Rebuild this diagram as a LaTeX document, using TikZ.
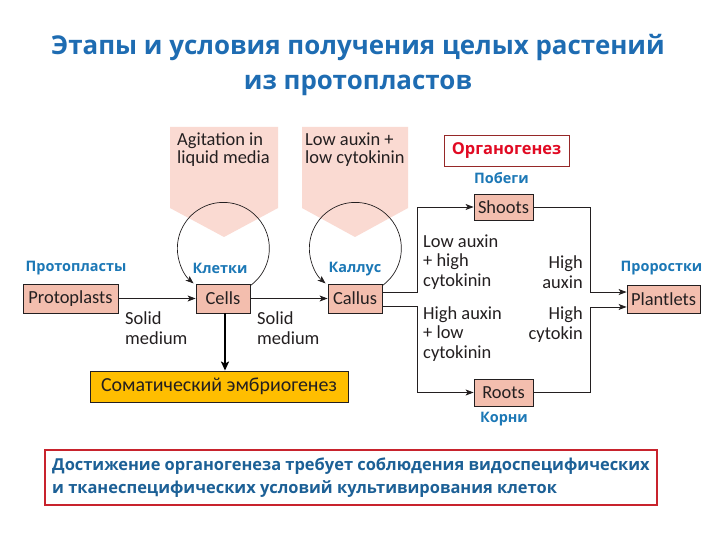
\documentclass[tikz,border=0pt]{standalone}
\usepackage{fontspec}
\setmainfont{Carlito}
\newfontfamily\osans{Open Sans}
\usetikzlibrary{arrows.meta}
\definecolor{titleblue}{RGB}{30,108,178}
\definecolor{lblblue}{RGB}{28,120,182}
\definecolor{botblue}{RGB}{28,96,150}
\definecolor{boxpink}{RGB}{243,190,174}
\definecolor{panelpink}{RGB}{250,218,210}
\definecolor{orgred}{RGB}{225,10,35}
\definecolor{orgborder}{RGB}{150,40,40}
\definecolor{botred}{RGB}{200,35,45}
\definecolor{somyellow}{RGB}{255,190,0}
\definecolor{ink}{RGB}{35,31,32}
\tikzset{
  stagebox/.style={draw=ink, fill=boxpink, line width=0.8bp, inner sep=0pt, text=ink,
    font=\fontsize{18.5}{20}\selectfont, minimum height=29bp},
  dtext/.style={inner sep=0pt, text=ink, font=\fontsize{18.5}{19.5}\selectfont},
  rlabel/.style={inner sep=0pt, text=lblblue, font=\osans\bfseries\fontsize{14.5}{16}\selectfont},
  arr/.style={draw=ink, line width=0.9bp, -{Stealth[length=8bp,width=6bp,inset=2bp]}},
  loopline/.style={draw=ink, line width=0.7bp, -{Stealth[length=8bp,width=6bp,inset=2bp]}},
  panel/.style={fill=panelpink, draw=none}
}
\begin{document}
\begin{tikzpicture}[x=1bp, y=-1bp]
\useasboundingbox (0,0) rectangle (720,540);
\fill[white] (0,0) rectangle (720,540);
% title
\node[inner sep=0pt, text=titleblue, align=center, font=\osans\bfseries\fontsize{26}{36}\selectfont] (title) at (358,65)
  {Этапы и условия получения целых растений\\из протопластов};
% pink panels
\fill[panel] (170,127) -- (278,127) -- (278,208) -- (224,237) -- (170,208) -- cycle;
\fill[panel] (302,127) -- (408,127) -- (408,208) -- (355,237) -- (302,208) -- cycle;
\node[dtext, anchor=west, align=left, font=\fontsize{18.5}{18}\selectfont] (agit) at (177,150) {Agitation in\\liquid media};
\node[dtext, anchor=west, align=left, font=\fontsize{18.5}{18}\selectfont] (lowlow) at (305,150) {Low auxin +\\low cytokinin};
% stage boxes
\node[stagebox, minimum width=95bp] (proto) at (70.5,298.5) {Protoplasts};
\node[stagebox, minimum width=54bp] (cells) at (223,298.5) {Cells};
\node[stagebox, minimum width=54bp] (callus) at (355,298.5) {Callus};
\node[stagebox, minimum width=59bp, minimum height=26bp] (shoots) at (503.5,207) {Shoots};
\node[stagebox, minimum width=59bp, minimum height=27bp] (roots) at (503.5,392.5) {Roots};
\node[stagebox, minimum width=73bp, minimum height=28bp] (plant) at (663.5,299) {Plantlets};
% russian labels
\node[rlabel] (lproto) at (76,268) {Протопласты};
\node[rlabel] (lcells) at (220,268) {Клетки};
\node[rlabel] (lcallus) at (355,269) {Каллус};
\node[rlabel] (lshoots) at (501.5,178) {Побеги};
\node[rlabel] (lplant) at (661.5,268) {Проростки};
\node[rlabel] (lroots) at (504,419) {Корни};
% organogenesis
\node[draw=orgborder, line width=0.9bp, fill=white, minimum width=125bp, minimum height=31bp, inner sep=0pt,
  text=orgred, font=\osans\bfseries\fontsize{16.5}{18}\selectfont] (organ) at (506.5,150.5) {Органогенез};
% somatic
\node[draw=ink, line width=0.9bp, fill=somyellow, minimum width=258bp, minimum height=31bp, inner sep=0pt,
  text=ink, font=\fontsize{20}{21}\selectfont] (somat) at (219,386.5) {Соматический эмбриогенез};
% bottom box
\node[draw=botred, line width=1.2bp, fill=white, minimum width=612bp, minimum height=55bp, inner sep=0pt] (bottom) at (351,477.5) {};
\node[inner sep=0pt, anchor=west, align=left, text=botblue, font=\osans\bfseries\fontsize{16.5}{23}\selectfont] (bottomtext) at (52,478)
  {Достижение органогенеза требует соблюдения видоспецифических\\и тканеспецифических условий культивирования клеток};
% condition texts
\node[dtext, anchor=west, align=left] (solid1) at (125,328) {Solid\\medium};
\node[dtext, anchor=west, align=left] (solid2) at (257,328) {Solid\\medium};
\node[dtext, anchor=west, align=left] (lahc) at (423,262) {Low auxin\\+ high\\cytokinin};
\node[dtext, anchor=east, align=right] (ha) at (583,272) {High\\auxin};
\node[dtext, anchor=west, align=left] (halc) at (423,334) {High auxin\\+ low\\cytokinin};
\node[dtext, anchor=east, align=right] (hc) at (583,324.5) {High\\cytokin};
% connectors
\coordinate (xl) at (417,0);
\coordinate (xr) at (590,0);
\draw[arr] (proto) -- (cells);
\draw[arr] (cells) -- (callus);
\draw[arr] ([yshift=6.5pt]callus.east) -- ([yshift=6.5pt]callus.east -| xl) |- (shoots.west);
\draw[arr] ([yshift=-8pt]callus.east) -- ([yshift=-8pt]callus.east -| xl) |- (roots.west);
\draw[arr] (shoots.east) -| ([yshift=7pt]plant.west -| xr) -- ([yshift=7pt]plant.west);
\draw[arr] (roots.east) -| ([yshift=-8pt]plant.west -| xr) -- ([yshift=-8pt]plant.west);
\draw[draw=black, line width=2bp, -{Stealth[length=9bp,width=8bp,inset=2bp]}] ([xshift=2pt]cells.south) -- ([xshift=2pt]cells.south |- somat.north);
% loops
\draw[loopline] ([yshift=-2pt]cells.north east) arc[start angle=54, end angle=-229.6, radius=46];
\draw[loopline] ([yshift=-2pt]callus.north east) arc[start angle=54, end angle=-229.6, radius=46];
\end{tikzpicture}
\end{document}
